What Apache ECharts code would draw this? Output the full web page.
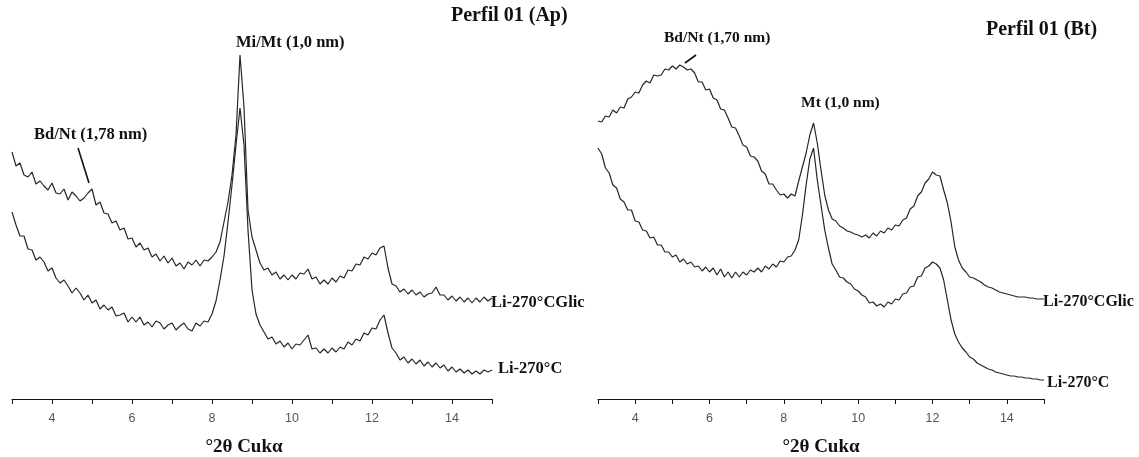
<!DOCTYPE html>
<html>
<head>
<meta charset="utf-8">
<title>Perfil 01 - DRX</title>
<script src="https://cdn.jsdelivr.net/npm/echarts@6/dist/echarts.min.js"></script>
<style>
  html, body { margin: 0; padding: 0; background: #fff; }
  #chart { width: 1139px; height: 457px; }
</style>
</head>
<body>
<div id="chart"></div>
<script>
// scan: 3 to 15 °2θ, step 0.1
const twoTheta = Array.from({ length: 121 }, (_, i) => +(3 + i * 0.1).toFixed(1));

// intensities (arbitrary units)
const apGlic = [
  247, 233, 236, 224, 222, 227, 215, 218, 213, 209,
  216, 206, 205, 210, 199, 207, 203, 198, 201, 206,
  210, 194, 197, 186, 185, 176, 178, 169, 171, 160,
  161, 152, 156, 149, 151, 142, 145, 138, 143, 136,
  141, 133, 136, 130, 137, 134, 139, 133, 139, 138,
  142, 147, 157, 177, 197, 224, 264, 344, 292, 189,
  162, 149, 136, 129, 131, 124, 127, 120, 124, 119,
  124, 120, 126, 125, 130, 120, 122, 115, 119, 115,
  121, 117, 123, 121, 129, 128, 135, 134, 142, 140,
  146, 144, 151, 153, 131, 115, 113, 107, 110, 105,
  109, 104, 107, 102, 105, 106, 112, 104, 104, 99,
  103, 98, 102, 97, 101, 96, 101, 97, 102, 98,
  101
];
const apHeated = [
  187, 174, 163, 163, 150, 149, 139, 142, 137, 128,
  131, 121, 116, 119, 113, 106, 111, 106, 99, 104,
  96, 99, 90, 94, 89, 92, 83, 84, 86, 77,
  82, 77, 82, 74, 77, 72, 78, 76, 70, 74,
  76, 69, 73, 76, 70, 68, 76, 73, 78, 77,
  85, 98, 119, 143, 177, 214, 254, 291, 254, 169,
  109, 85, 74, 67, 60, 62, 55, 58, 52, 56,
  50, 55, 54, 59, 64, 50, 51, 46, 50, 46,
  51, 47, 52, 50, 57, 54, 60, 58, 66, 64,
  71, 70, 79, 84, 66, 51, 46, 39, 42, 36,
  40, 35, 39, 33, 37, 32, 36, 31, 34, 28,
  32, 27, 30, 26, 29, 25, 28, 25, 29, 27,
  29
];
const btGlic = [
  278, 277, 283, 282, 289, 286, 292, 291, 300, 302,
  307, 306, 314, 318, 316, 324, 323, 324, 330, 329,
  333, 330, 334, 332, 329, 330, 326, 317, 317, 309,
  310, 301, 299, 290, 289, 281, 272, 271, 263, 254,
  252, 243, 242, 238, 228, 225, 215, 215, 209, 204,
  205, 201, 205, 203, 218, 232, 246, 264, 276, 256,
  229, 204, 189, 180, 178, 173, 171, 168, 167, 165,
  164, 162, 164, 161, 166, 163, 168, 166, 171, 169,
  174, 173, 179, 181, 190, 193, 203, 207, 216, 220,
  227, 224, 223, 209, 196, 177, 152, 139, 131, 127,
  122, 121, 119, 117, 114, 112, 111, 109, 107, 106,
  105, 104, 103, 102, 102, 102, 101, 101, 100, 100,
  100
];
const btHeated = [
  251, 245, 231, 226, 214, 211, 200, 197, 189, 189,
  178, 177, 169, 168, 161, 162, 154, 154, 147, 147,
  142, 144, 137, 140, 135, 137, 132, 133, 128, 132,
  127, 131, 124, 130, 122, 127, 121, 127, 122, 127,
  124, 129, 127, 131, 127, 133, 130, 135, 132, 138,
  137, 142, 143, 149, 159, 184, 214, 240, 251, 219,
  194, 169, 151, 135, 129, 122, 121, 117, 115, 110,
  108, 104, 102, 96, 97, 93, 95, 92, 97, 95,
  100, 99, 105, 106, 112, 113, 122, 123, 131, 133,
  137, 135, 131, 119, 99, 79, 65, 57, 51, 47,
  42, 40, 36, 34, 32, 30, 29, 27, 26, 25,
  24, 23, 23, 22, 22, 21, 21, 20, 20, 19,
  19
];

const axisMin = 3;
const axisMax = 15;
const axisName = '°2θ Cukα';

const serif = '"Liberation Serif", "Times New Roman", serif';
const ink = '#111';

function pairs(values) {
  return twoTheta.map((t, i) => [t, values[i]]);
}

function xAxisFor(gridIndex, namePad) {
  return {
    gridIndex,
    type: 'value',
    min: axisMin,
    max: axisMax,
    interval: 1,
    axisLine: { show: true, onZero: false, lineStyle: { color: ink, width: 1 } },
    axisTick: { show: true, length: 5, lineStyle: { color: ink } },
    axisLabel: {
      margin: 13,
      color: '#555',
      fontSize: 12.5,
      fontFamily: '"Liberation Sans", Arial, sans-serif',
      formatter: (v) => (v % 2 === 0 ? String(v) : ''),
    },
    splitLine: { show: false },
    name: axisName,
    nameLocation: 'middle',
    nameGap: 39,
    nameTextStyle: {
      color: ink,
      fontFamily: serif,
      fontWeight: 'bold',
      fontSize: 19,
      padding: namePad,
    },
  };
}

function yAxisFor(gridIndex) {
  return { gridIndex, type: 'value', min: 0, max: 399, show: false };
}

function trace(name, values, idx) {
  return {
    name,
    type: 'line',
    xAxisIndex: idx,
    yAxisIndex: idx,
    data: pairs(values),
    showSymbol: false,
    symbol: 'none',
    lineStyle: { color: '#262626', width: 1.2 },
    silent: true,
  };
}

function label(text, x, y, size) {
  return {
    type: 'text',
    x,
    y,
    silent: true,
    style: {
      text,
      fill: ink,
      font: `bold ${size}px ${serif}`,
      align: 'left',
      verticalAlign: 'middle',
    },
  };
}

function pointer(x1, y1, x2, y2) {
  return {
    type: 'line',
    silent: true,
    shape: { x1, y1, x2, y2 },
    style: { stroke: ink, lineWidth: 1.6 },
  };
}

const chart = echarts.init(document.getElementById('chart'), null, { renderer: 'canvas' });
chart.setOption({
  animation: false,
  backgroundColor: '#fff',
  grid: [
    { left: 12, width: 480, top: 0, bottom: 58, outerBoundsMode: 'none' },
    { left: 598, width: 446, top: 0, bottom: 58, outerBoundsMode: 'none' },
  ],
  xAxis: [xAxisFor(0, [0, 16, 0, 0]), xAxisFor(1, [0, 0, 0, 0])],
  yAxis: [yAxisFor(0), yAxisFor(1)],
  series: [
    trace('Ap Li-270°CGlic', apGlic, 0),
    trace('Ap Li-270°C', apHeated, 0),
    trace('Bt Li-270°CGlic', btGlic, 1),
    trace('Bt Li-270°C', btHeated, 1),
  ],
  graphic: [
    label('Perfil 01 (Ap)', 451, 16, 20),
    label('Mi/Mt (1,0 nm)', 236, 43, 16.5),
    label('Bd/Nt (1,78 nm)', 34, 135, 16.5),
    pointer(78, 148, 89, 183),
    label('Li-270°CGlic', 491, 303, 16.5),
    label('Li-270°C', 498, 369, 16.5),

    label('Perfil 01 (Bt)', 986, 30, 20),
    label('Bd/Nt (1,70 nm)', 664, 38, 15.5),
    pointer(696, 55, 685, 63),
    label('Mt (1,0 nm)', 801, 103, 15.5),
    label('Li-270°CGlic', 1043, 302, 16),
    label('Li-270°C', 1047, 383, 16),
  ],
});

window.addEventListener('resize', () => chart.resize());
</script>
</body>
</html>
